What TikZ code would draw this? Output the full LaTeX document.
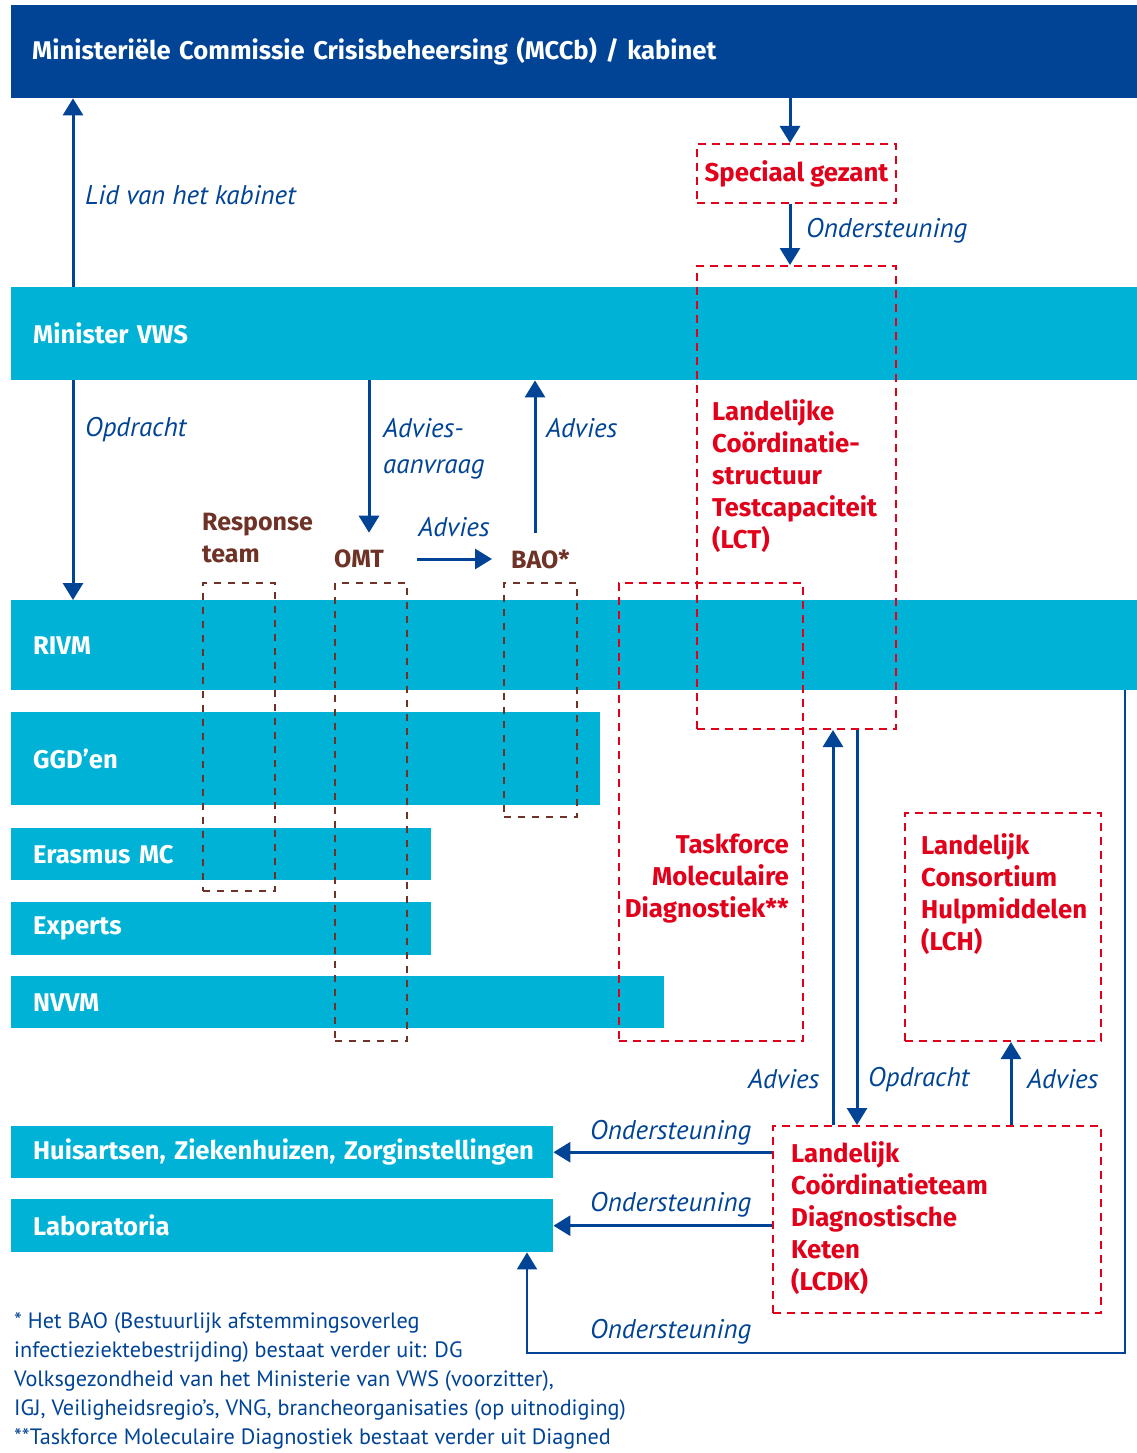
\documentclass[tikz,border=0pt]{standalone}
\usepackage{fontspec}
\setmainfont{PT Sans}
\newfontfamily\boldfam{Fira Sans}
\usetikzlibrary{arrows.meta,positioning}
\definecolor{darkblue}{RGB}{1,68,150}
\definecolor{cyanbar}{RGB}{0,179,214}
\definecolor{rijksred}{RGB}{226,0,26}
\definecolor{teambrown}{RGB}{110,50,38}

\begin{document}
\begin{tikzpicture}[x=1pt,y=-1pt,
    bar/.style ={fill=cyanbar, anchor=north west, inner xsep=22pt, inner ysep=0pt, text=white, align=left,
                 font=\boldfam\fontsize{25.6}{28}\selectfont\bfseries},
    redbox/.style ={draw=rijksred, dash pattern=on 8pt off 6pt, line width=2pt, anchor=north west, inner sep=0pt},
    brownbox/.style ={draw=teambrown, dash pattern=on 7pt off 7pt, line width=1.8pt, anchor=north west, inner sep=0pt},
    redtext/.style ={text=rijksred, inner sep=0pt, font=\boldfam\fontsize{25.8}{32}\selectfont\bfseries},
    browntext/.style ={text=teambrown, inner sep=0pt, font=\boldfam\fontsize{25}{32}\selectfont\bfseries},
    lbl/.style ={text=darkblue, inner sep=0pt, font=\fontsize{27}{36}\selectfont\itshape},
    flow/.style ={draw=darkblue, line width=3pt, -{Triangle[width=20pt,length=17pt]}}]
   \useasboundingbox[fill=white] (0,0) rectangle (1137,1453);

   % balken
   \node[bar, fill=darkblue, inner xsep=21pt, text width=1084pt, minimum height=93pt] (mccb) at (11,5)
        {Ministeriële Commissie Crisisbeheersing (MCCb) / kabinet};
   \node[bar, text width=1082pt, minimum height=93pt] (minister) at (11,287) {Minister VWS};
   \node[bar, text width=1082pt, minimum height=90pt] (rivm) at (11,600) {RIVM};
   \node[bar, text width=545pt, minimum height=93pt] (ggd) at (11,712) {GGD’en};
   \node[bar, text width=376pt, minimum height=52pt] (erasmus) at (11,828) {Erasmus MC};
   \node[bar, text width=376pt, minimum height=53pt] (experts) at (11,902) {Experts};
   \node[bar, text width=609pt, minimum height=52pt] (nvvm) at (11,976) {NVVM};
   \node[bar, text width=498pt, minimum height=52pt] (huis) at (11,1126)
        {\mbox{Huisartsen, Ziekenhuizen, Zorginstellingen}};
   \node[bar, text width=498pt, minimum height=53pt] (lab) at (11,1199) {Laboratoria};

   % kaders
   \node[redbox, minimum width=199pt, minimum height=59pt, redtext] (gezant) at (696,143) {Speciaal gezant};
   \node[redbox, minimum width=199pt, minimum height=463pt] (lct) at (696,265) {};
   \node[redbox, minimum width=184pt, minimum height=458pt] (taskforce) at (618,582) {};
   \node[redbox, minimum width=196pt, minimum height=228pt] (lch) at (904,812) {};
   \node[redbox, minimum width=328pt, minimum height=187pt] (lcdk) at (772,1125) {};
   \node[brownbox, minimum width=72pt, minimum height=308pt] (responsebox) at (202,582) {};
   \node[brownbox, minimum width=72pt, minimum height=458pt] (omtbox) at (334,582) {};
   \node[brownbox, minimum width=73pt, minimum height=234pt] (baobox) at (503,582) {};

   \node[redtext, anchor=north west, align=left] (lcttext) at (712,399)
        {Landelijke\\Coördinatie-\\structuur\\Testcapaciteit\\(LCT)};
   \node[redtext, anchor=north east, align=right] (tftext) at (789,834)
        {Taskforce\\Moleculaire\\Diagnostiek**};
   \node[redtext, anchor=north west, align=left] (lchtext) at (921,833)
        {Landelijk\\Consortium\\Hulpmiddelen\\(LCH)};
   \node[redtext, anchor=north west, align=left] (lcdktext) at (791,1141)
        {Landelijk\\Coördinatieteam\\Diagnostische\\Keten\\(LCDK)};

   \node[browntext, anchor=north west, align=left] (response) at (202,513) {Response\\team};
   \node[browntext, anchor=west] (omt) at (334,559) {OMT};
   \node[browntext, anchor=west] (bao) at (511,559) {BAO*};

   % pijlen
   \coordinate (kx) at (73,0);
   \coordinate (gx) at (790,0);
   \coordinate (ax) at (369,0);
   \coordinate (bx) at (535,0);
   \coordinate (upx) at (833,0);
   \coordinate (downx) at (857,0);
   \coordinate (hx) at (1011,0);
   \coordinate (rx) at (1125,1353);
   \coordinate (lx) at (527,1353);
   \coordinate (ostart) at (417,558);
   \coordinate (oend) at (492,558);

   \draw[flow] (minister.north -| kx) to (mccb.south -| kx);
   \draw[flow] (mccb.south -| gx) to (gezant.north -| gx);
   \draw[flow] (gezant.south -| gx) to (lct.north -| gx);
   \draw[flow] (minister.south -| kx) to (rivm.north -| kx);
   \draw[flow, shorten >=17pt] (minister.south -| ax) to (omt.north -| ax);
   \draw[flow, shorten <=16pt] (bao.north -| bx) to (minister.south -| bx);
   \draw[flow] (omt.east -| ostart) to (bao.west -| oend);
   \draw[flow] (lcdk.north -| upx) to (lct.south -| upx);
   \draw[flow] (lct.south -| downx) to (lcdk.north -| downx);
   \draw[flow] (lcdk.north -| hx) to (lch.south -| hx);
   \draw[flow] (lcdk.west |- huis.east) to (huis.east);
   \draw[flow] (lcdk.west |- lab.east) to (lab.east);
   \draw[flow, line width=2pt] (rivm.south -| rx) -- (rx) -- (lx) -- (lab.south -| lx);

   % labels
   \node[lbl, anchor=west] (lid) at (85,195) {Lid van het kabinet};
   \node[lbl, anchor=west] (ond1) at (806,231) {Ondersteuning};
   \node[lbl, anchor=west] (opd1) at (85,430) {Opdracht};
   \node[lbl, anchor=north west, align=left] (aanvraag) at (383,418) {Advies-\\aanvraag};
   \node[lbl, anchor=west] (adv1) at (546,428) {Advies};
   \node[lbl, anchor=center] (adv2) at (454,527) {Advies};
   \node[lbl, anchor=west] (adv3) at (748,1079) {Advies};
   \node[lbl, anchor=west] (opd2) at (868,1080) {Opdracht};
   \node[lbl, anchor=west] (adv4) at (1027,1079) {Advies};
   \node[lbl, anchor=west] (ond2) at (590,1133) {Ondersteuning};
   \node[lbl, anchor=west] (ond3) at (590,1205) {Ondersteuning};
   \node[lbl, anchor=west] (ond4) at (590,1332) {Ondersteuning};

   % voetnoot
   \node[text=darkblue, inner sep=0pt, anchor=north west, align=left,
         font=\fontsize{22.2}{29}\selectfont] (noot) at (14,1312)
        {* Het BAO (Bestuurlijk afstemmingsoverleg\\
         infectieziektebestrijding) bestaat verder uit: DG\\
         Volksgezondheid van het Ministerie van VWS (voorzitter),\\
         IGJ, Veiligheidsregio’s, VNG, brancheorganisaties (op uitnodiging)\\
         **Taskforce Moleculaire Diagnostiek bestaat verder uit Diagned};
\end{tikzpicture}
\end{document}
